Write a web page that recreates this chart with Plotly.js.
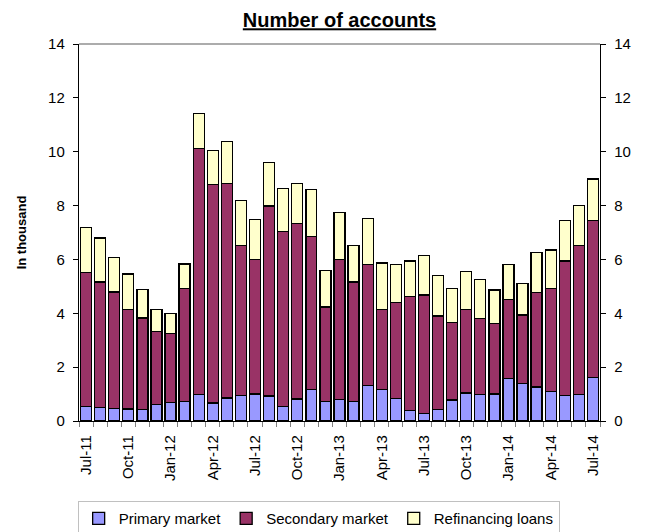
<!DOCTYPE html>
<html>
<head>
<meta charset="utf-8">
<script src="https://cdn.plot.ly/plotly-3.0.1.min.js"></script>
<style>html,body{margin:0;padding:0;background:#fff;}#chart{width:647px;height:532px;}</style>
</head>
<body>
<div id="chart"></div>
<script>
const months = ["Jul-11","Aug-11","Sep-11","Oct-11","Nov-11","Dec-11","Jan-12","Feb-12","Mar-12","Apr-12","May-12","Jun-12",
  "Jul-12","Aug-12","Sep-12","Oct-12","Nov-12","Dec-12","Jan-13","Feb-13","Mar-13","Apr-13","May-13","Jun-13",
  "Jul-13","Aug-13","Sep-13","Oct-13","Nov-13","Dec-13","Jan-14","Feb-14","Mar-14","Apr-14","May-14","Jun-14","Jul-14"];
const tickLabels = ["Jul-11","Oct-11","Jan-12","Apr-12","Jul-12","Oct-12","Jan-13","Apr-13","Jul-13","Oct-13","Jan-14","Apr-14","Jul-14"];
const primary = [0.55,0.50,0.46,0.45,0.44,0.60,0.69,0.72,0.98,0.67,0.85,0.96,1.00,0.93,0.55,0.82,1.17,0.72,0.80,0.73,1.32,1.17,0.83,0.40,0.28,0.42,0.78,1.04,0.98,1.00,1.58,1.40,1.26,1.09,0.95,0.99,1.62];
const secondary = [4.97,4.66,4.33,3.70,3.38,2.72,2.57,4.20,9.15,8.10,7.96,5.57,5.00,7.05,6.49,6.52,5.68,3.51,5.21,4.43,4.50,2.96,3.56,4.23,4.40,3.48,2.89,3.11,2.83,2.62,2.93,2.54,3.51,3.82,4.99,5.52,5.82];
const refinancing = [1.67,1.64,1.29,1.31,1.07,0.83,0.72,0.91,1.28,1.28,1.58,1.65,1.48,1.63,1.60,1.49,1.74,1.35,1.73,1.35,1.71,1.74,1.43,1.31,1.47,1.51,1.25,1.40,1.44,1.25,1.31,1.17,1.49,1.44,1.51,1.49,1.55];

const FONT = "Liberation Sans, Arial, sans-serif";
const line = {color: "#000000", width: 1.3};
const traces = [
  {type: "bar", name: "Primary market", x: months, y: primary, marker: {color: "#9999FF", line: line}},
  {type: "bar", name: "Secondary market", x: months, y: secondary, marker: {color: "#993366", line: line}},
  {type: "bar", name: "Refinancing loans", x: months, y: refinancing, marker: {color: "#FFFFCC", line: line}},
  // carrier for the mirrored right-hand axis (draws nothing)
  {type: "scatter", mode: "none", x: months, y: primary, yaxis: "y2", showlegend: false, hoverinfo: "skip"}
];

const layout = {
  width: 647, height: 532,
  margin: {l: 79, r: 47, t: 43.5, b: 111, pad: 0},
  paper_bgcolor: "#ffffff", plot_bgcolor: "#ffffff",
  barmode: "stack", bargap: 0.22,
  font: {family: FONT, size: 15, color: "#000"},
  title: {text: "<b><u>Number of accounts</u></b>", font: {family: FONT, size: 20, color: "#000"},
          x: 0.5, xanchor: "center", y: 0.975, yanchor: "top", xref: "paper"},
  showlegend: true,
  legend: {orientation: "h", x: 0.46, xanchor: "center", xref: "paper", yref: "container", y: 0.058, yanchor: "top",
           bordercolor: "#c0c0c0", borderwidth: 1, font: {family: FONT, size: 15}, traceorder: "normal"},
  xaxis: {type: "category", tickmode: "array", tickvals: months,
          ticktext: months.map(m => tickLabels.includes(m) ? m : ""),
          tickangle: -90, tickson: "boundaries", ticks: "outside", ticklen: 5, tickcolor: "#808080",
          ticklabelstandoff: 7,
          showline: true, linecolor: "#000", linewidth: 1.2, showgrid: false, zeroline: false,
          tickfont: {family: FONT, size: 15}},
  yaxis: {range: [0, 14], dtick: 2, tick0: 0, ticks: "outside", ticklen: 5, tickcolor: "#000",
          ticklabelstandoff: 5,
          showline: true, linecolor: "#000", linewidth: 1.2, showgrid: false, zeroline: false,
          tickfont: {family: FONT, size: 15},
          title: {text: "<b>In thousand</b>", font: {family: FONT, size: 13}, standoff: 18}},
  yaxis2: {range: [0, 14], dtick: 2, tick0: 0, overlaying: "y", side: "right", ticks: "outside", ticklen: 5,
           ticklabelstandoff: 5,
           tickcolor: "#000", showline: true, linecolor: "#000", linewidth: 1.2, showgrid: false, zeroline: false,
           tickfont: {family: FONT, size: 15}},
  shapes: [{type: "line", xref: "paper", yref: "paper", x0: 0, x1: 1, y0: 1, y1: 1,
            line: {color: "#909090", width: 1.5}}],
  hovermode: false
};

Plotly.newPlot("chart", traces, layout, {staticPlot: true, displayModeBar: false});
</script>
</body>
</html>
